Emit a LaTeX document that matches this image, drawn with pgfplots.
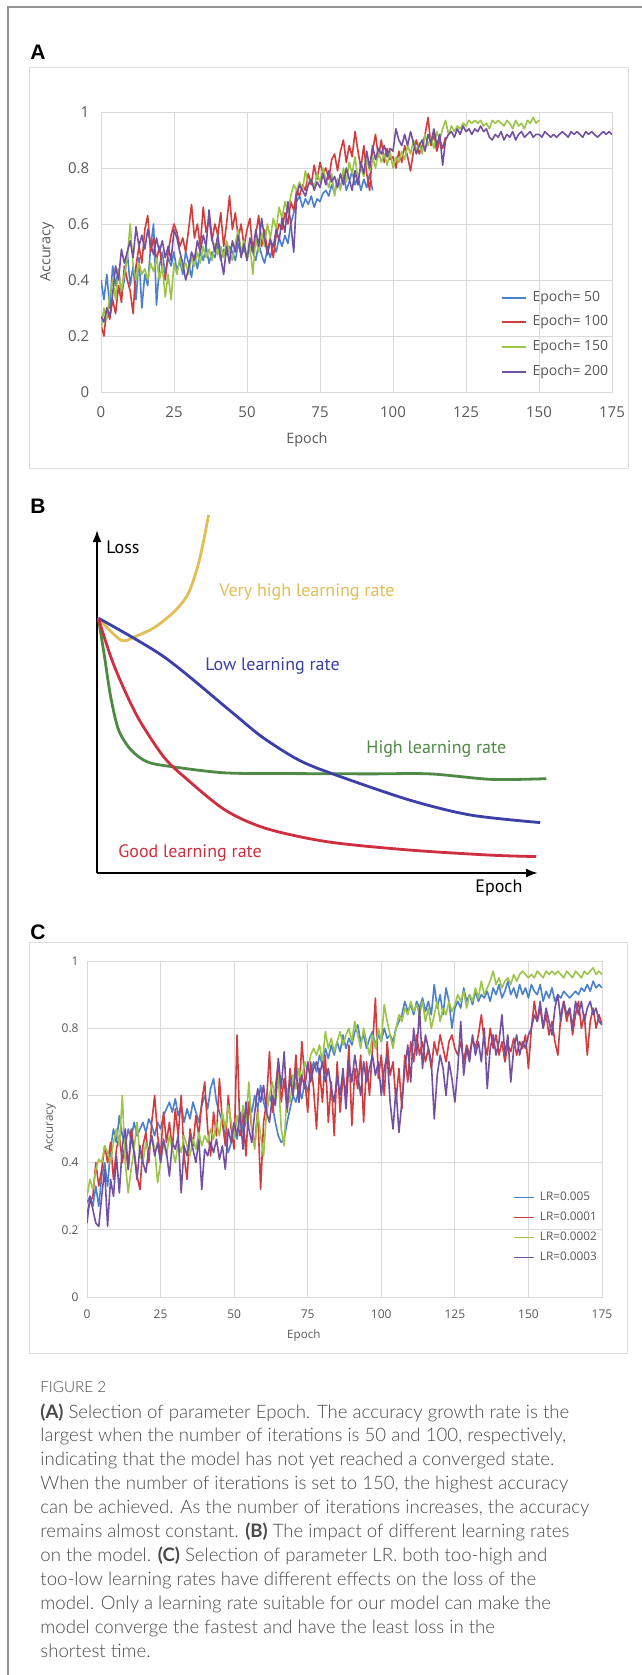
\documentclass[border=0pt]{standalone}
\usepackage{fontspec}
\setmainfont{Open Sans}
\newfontfamily\capfont{Lato}[UprightFont=* Light, BoldFont=* Bold]
\newfontfamily\labfont{Liberation Sans}
\newfontfamily\bfont{PT Sans}
\usepackage{pgfplots}
\pgfplotsset{compat=1.18}
\usepackage{pgfplotstable}
\usetikzlibrary{arrows.meta}

\definecolor{txtgray}{HTML}{595959}
\definecolor{gridgray}{HTML}{D9D9D9}
\definecolor{framegray}{HTML}{DDDDDD}
\definecolor{capgray}{HTML}{4A4A4A}
\definecolor{cblue}{HTML}{4A80CE}
\definecolor{cred}{HTML}{D23C3C}
\definecolor{cgreen}{HTML}{9CC447}
\definecolor{cpurple}{HTML}{7450A0}
\definecolor{byellow}{HTML}{E2BE55}
\definecolor{bblue}{HTML}{3B3FA8}
\definecolor{bgreen}{HTML}{4F8A45}
\definecolor{bred}{HTML}{CF2F40}

% panel A: accuracy per epoch setting (b=50, r=100, g=150, p=200)
\pgfplotstableread{
x b r g p
0 .40 .24 .22 .27
1 .33 .20 .30 .25
2 .42 .30 .26 .30
3 .30 .26 .35 .27
4 .45 .33 .40 .35
5 .38 .28 .33 .45
6 .44 .38 .44 .40
7 .35 .32 .36 .51
8 .40 .45 .42 .46
9 .50 .40 .48 .50
10 .38 .36 .60 .54
11 .45 .28 .45 .48
12 .33 .45 .40 .59
13 .48 .52 .46 .52
14 .30 .46 .42 .56
15 .42 .58 .44 .51
16 .38 .63 .40 .58
17 .52 .50 .46 .53
18 .60 .55 .43 .49
19 .31 .47 .48 .55
20 .45 .52 .40 .50
21 .50 .44 .45 .54
22 .42 .40 .34 .48
23 .48 .50 .42 .52
24 .45 .56 .33 .47
25 .50 .60 .46 .58
26 .43 .57 .42 .55
27 .47 .52 .48 .50
28 .42 .55 .44 .46
29 .50 .50 .46 .40
30 .46 .58 .42 .44
31 .41 .67 .48 .50
32 .49 .55 .45 .47
33 .44 .60 .50 .54
34 .50 .52 .46 .50
35 .47 .66 .52 .56
36 .52 .57 .48 .52
37 .46 .62 .51 .65
38 .50 .54 .47 .55
39 .48 .60 .53 .50
40 .53 .56 .49 .56
41 .47 .64 .52 .48
42 .51 .52 .48 .42
43 .49 .60 .54 .52
44 .52 .70 .50 .46
45 .50 .58 .47 .54
46 .47 .64 .53 .50
47 .53 .55 .58 .56
48 .49 .60 .50 .48
49 .51 .52 .54 .53
50 .48 .58 .47 .47
51 .52 .62 .52 .55
52 .50 .50 .42 .50
53 .47 .56 .55 .58
54 .53 .63 .50 .52
55 .49 .52 .57 .62
56 .46 .58 .52 .55
57 .51 .50 .60 .49
58 .48 .55 .55 .54
59 .53 .48 .62 .52
60 .50 .56 .58 .58
61 .55 .60 .66 .54
62 .52 .58 .62 .62
63 .56 .64 .68 .57
64 .53 .60 .64 .68
65 .60 .68 .70 .60
66 .64 .65 .74 .50
67 .68 .72 .72 .70
68 .70 .70 .75 .74
69 .66 .74 .72 .72
70 .69 .72 .79 .70
71 .67 .78 .74 .74
72 .70 .74 .76 .76
73 .66 .81 .73 .72
74 .69 .76 .78 .75
75 .68 .82 .75 .73
76 .71 .78 .80 .78
77 .72 .80 .76 .74
78 .70 .76 .73 .79
79 .74 .83 .78 .75
80 .71 .85 .70 .77
81 .76 .79 .76 .73
82 .73 .86 .72 .78
83 .78 .90 .80 .74
84 .72 .82 .75 .80
85 .75 .88 .82 .76
86 .79 .84 .78 .72
87 .74 .93 .84 .79
88 .77 .86 .76 .74
89 .72 .80 .80 .82
90 .76 .88 .77 .78
91 .73 .78 .83 .86
92 .78 .72 .79 .80
93 .72 .86 .84 .88
94 nan .92 .80 .83
95 nan .84 .86 .87
96 nan .90 .82 .85
97 nan .82 .85 .88
98 nan .87 .81 .84
99 nan .83 .86 .87
100 nan .84 .80 .86
101 nan .80 .84 .94
102 nan .86 .82 .90
103 nan .82 .86 .88
104 nan .88 .83 .92
105 nan .84 .88 .88
106 nan .79 .85 .93
107 nan .86 .90 .89
108 nan .90 .86 .85
109 nan .85 .89 .88
110 nan .88 .85 .90
111 nan .92 .92 .86
112 nan .98 .88 .92
113 nan .88 .91 .89
114 nan .92 .87 .94
115 nan .86 .93 .88
116 nan .90 .90 .92
117 nan .87 .94 .81
118 nan .91 .97 .90
119 nan nan .92 .92
120 nan nan .95 .93
121 nan nan .93 .91
122 nan nan .95 .94
123 nan nan .94 .92
124 nan nan .96 .95
125 nan nan .95 .93
126 nan nan .97 .94
127 nan nan .96 .92
128 nan nan .97 .94
129 nan nan .96 .93
130 nan nan .97 .95
131 nan nan .95 .93
132 nan nan .96 .94
133 nan nan .94 .91
134 nan nan .97 .90
135 nan nan .96 .92
136 nan nan .97 .91
137 nan nan .96 .93
138 nan nan .95 .90
139 nan nan .97 .92
140 nan nan .96 .91
141 nan nan .94 .93
142 nan nan .97 .90
143 nan nan .95 .92
144 nan nan .96 .93
145 nan nan .94 .91
146 nan nan .97 .92
147 nan nan .96 .93
148 nan nan .98 .91
149 nan nan .96 .92
150 nan nan .97 .92
151 nan nan nan .91
152 nan nan nan .93
153 nan nan nan .92
154 nan nan nan .91
155 nan nan nan .92
156 nan nan nan .91
157 nan nan nan .92
158 nan nan nan .93
159 nan nan nan .92
160 nan nan nan .91
161 nan nan nan .93
162 nan nan nan .92
163 nan nan nan .93
164 nan nan nan .92
165 nan nan nan .91
166 nan nan nan .93
167 nan nan nan .92
168 nan nan nan .93
169 nan nan nan .92
170 nan nan nan .91
171 nan nan nan .92
172 nan nan nan .93
173 nan nan nan .92
174 nan nan nan .93
175 nan nan nan .92
}\tabA

% panel C: accuracy per learning rate (b=0.005, r=0.0001, g=0.0002, p=0.0003)
\pgfplotstableread{
x b r g p
0 .28 .25 .30 .22
1 .30 .28 .35 .30
2 .27 .30 .32 .26
3 .33 .40 .38 .22
4 .27 .33 .41 .21
5 .36 .38 .40 .30
6 .40 .45 .45 .38
7 .33 .40 .43 .21
8 .44 .46 .40 .35
9 .50 .35 .46 .30
10 .46 .44 .50 .42
11 .54 .48 .45 .31
12 .48 .40 .60 .45
13 .45 .46 .40 .50
14 .50 .38 .31 .38
15 .47 .50 .38 .48
16 .52 .44 .44 .43
17 .48 .36 .52 .35
18 .50 .32 .42 .45
19 .52 .45 .40 .40
20 .49 .49 .46 .37
21 .53 .40 .43 .44
22 .51 .52 .48 .48
23 .48 .60 .44 .42
24 .52 .48 .34 .46
25 .50 .42 .40 .40
26 .54 .55 .46 .47
27 .56 .46 .42 .43
28 .58 .52 .48 .36
29 .55 .44 .44 .46
30 .59 .56 .40 .44
31 .54 .48 .46 .48
32 .57 .60 .43 .31
33 .52 .42 .48 .45
34 .56 .35 .45 .42
35 .53 .50 .42 .48
36 .58 .45 .47 .44
37 .55 .54 .44 .40
38 .52 .48 .49 .47
39 .57 .58 .45 .32
40 .60 .64 .48 .44
41 .56 .50 .46 .42
42 .62 .42 .50 .46
43 .65 .55 .47 .43
44 .58 .48 .52 .47
45 .55 .65 .48 .41
46 .52 .52 .55 .45
47 .48 .45 .50 .38
48 .43 .60 .57 .50
49 .46 .50 .52 .46
50 .50 .44 .47 .52
51 .47 .78 .54 .48
52 .55 .48 .50 .55
53 .49 .55 .57 .44
54 .52 .42 .52 .58
55 .58 .58 .64 .50
56 .55 .50 .50 .46
57 .60 .45 .44 .55
58 .56 .56 .55 .62
59 .63 .32 .48 .58
60 .58 .52 .42 .63
61 .55 .58 .55 .55
62 .60 .73 .60 .52
63 .57 .55 .64 .60
64 .52 .62 .58 .57
65 .48 .70 .66 .71
66 .46 .58 .50 .62
67 .47 .65 .45 .73
68 .52 .55 .62 .56
69 .56 .68 .58 .65
70 .60 .60 .66 .60
71 .58 .72 .62 .68
72 .62 .58 .68 .58
73 .59 .76 .65 .66
74 .64 .65 .70 .62
75 .61 .55 .67 .70
76 .66 .70 .72 .64
77 .70 .62 .74 .68
78 .67 .50 .72 .70
79 .72 .68 .75 .66
80 .69 .58 .70 .70
81 .74 .72 .79 .64
82 .71 .52 .74 .68
83 .75 .64 .77 .62
84 .72 .48 .73 .58
85 .76 .70 .76 .66
86 .73 .55 .79 .60
87 .78 .66 .75 .68
88 .74 .60 .78 .56
89 .77 .75 .80 .70
90 .75 .51 .76 .64
91 .79 .68 .82 .72
92 .81 .62 .78 .66
93 .76 .72 .74 .60
94 .78 .52 .80 .70
95 .74 .70 .76 .64
96 .77 .60 .72 .68
97 .79 .74 .78 .72
98 .75 .89 .74 .66
99 .78 .65 .80 .70
100 .76 .72 .76 .60
101 .80 .60 .87 .68
102 .77 .76 .82 .72
103 .78 .66 .78 .58
104 .76 .70 .74 .50
105 .80 .58 .80 .62
106 .82 .68 .84 .49
107 .84 .56 .82 .58
108 .88 .72 .86 .68
109 .85 .64 .84 .75
110 .87 .76 .88 .64
111 .84 .70 .85 .80
112 .88 .78 .87 .72
113 .86 .72 .84 .86
114 .89 .76 .88 .68
115 .85 .70 .82 .78
116 .88 .74 .86 .74
117 .84 .68 .80 .70
118 .93 .76 .84 .53
119 .86 .72 .88 .66
120 .90 .78 .82 .72
121 .84 .74 .86 .68
122 .92 .70 .84 .60
123 .88 .76 .88 .70
124 .80 .78 .85 .65
125 .86 .74 .87 .58
126 .88 .72 .90 .68
127 .86 .76 .88 .82
128 .92 .70 .91 .66
129 .88 .75 .86 .74
130 .90 .72 .90 .70
131 .87 .77 .88 .78
132 .91 .74 .92 .72
133 .88 .78 .89 .76
134 .90 .84 .94 .70
135 .89 .76 .90 .80
136 .91 .72 .92 .62
137 .88 .80 .94 .74
138 .92 .74 .97 .78
139 .90 .78 .93 .72
140 .93 .72 .95 .76
141 .89 .76 .92 .84
142 .91 .70 .94 .72
143 .94 .75 .95 .78
144 .90 .73 .93 .64
145 .92 .77 .96 .74
146 .89 .72 .94 .78
147 .93 .76 .96 .72
148 .90 .74 .97 .76
149 .92 .78 .96 .74
150 .89 .68 .95 .78
151 .93 .80 .96 .80
152 .91 .88 .95 .84
153 .90 .82 .97 .82
154 .93 .86 .96 .88
155 .88 .80 .95 .80
156 .91 .84 .97 .86
157 .89 .78 .96 .82
158 .92 .82 .97 .78
159 .88 .76 .96 .86
160 .90 .72 .97 .90
161 .89 .84 .96 .82
162 .91 .88 .95 .88
163 .90 .82 .97 .84
164 .89 .86 .96 .86
165 .90 .78 .95 .80
166 .91 .84 .97 .88
167 .90 .88 .96 .84
168 .92 .80 .95 .88
169 .91 .84 .97 .82
170 .93 .72 .96 .86
171 .91 .82 .97 .88
172 .94 .86 .98 .84
173 .92 .80 .96 .86
174 .93 .84 .97 .82
175 .92 .81 .96 .81
}\tabC

\pgfplotsset{
  acc/.style={
    scale only axis,
    xmin=0, xmax=175, ymin=0, ymax=1,
    xtick={0,25,...,175},
    ytick={0,0.2,0.4,0.6,0.8,1},
    grid=major,
    grid style={gridgray, line width=0.5pt},
    axis line style={gridgray, line width=0.5pt},
    major tick length=0pt,
    tick label style={text=txtgray, inner sep=0pt},
    /pgf/number format/assume math mode=true,
    legend cell align=left,
    every axis plot/.append style={line width=0.8pt, line join=round},
  }
}

\begin{document}
\begin{tikzpicture}
\useasboundingbox (0,0) rectangle (321pt,-837.5pt);
\begin{scope}[x=0.5pt,y=-0.5pt]
  \fill[white] (0,0) rectangle (642,1675);
  \draw[gray!85, line width=1pt] (8,1675) -- (8,7) -- (642,7);
  \draw[framegray, line width=0.5pt] (29.5,68) rectangle (628,468);
  \draw[framegray, line width=0.5pt] (29.5,942) rectangle (627,1353);
  \node[font=\labfont\bfseries\fontsize{10.5}{10.5}\selectfont, anchor=west, inner sep=0] at (30,52) {A};
  \node[font=\labfont\bfseries\fontsize{10.5}{10.5}\selectfont, anchor=west, inner sep=0] at (30,506) {B};
  \node[font=\labfont\bfseries\fontsize{10.5}{10.5}\selectfont, anchor=west, inner sep=0] at (30,932) {C};
  % panel B labels
  \begin{scope}[every node/.style={font=\bfont\fontsize{9}{9}\selectfont, anchor=west, inner sep=0}]
    \node at (106,547) {Loss};
    \node at (475,888) {Epoch};
    \node[text=byellow] at (219,592) {Very high learning rate};
    \node[text=bblue] at (205,666) {Low learning rate};
    \node[text=bgreen] at (366,749) {High learning rate};
    \node[text=bred] at (118,853) {Good learning rate};
  \end{scope}
  % caption
  \node[anchor=west, inner sep=0, font=\capfont\fontsize{7.6}{8}\selectfont, text=capgray] at (40,1387) {FIGURE 2};
  \node[anchor=north west, inner sep=0, align=left, font=\capfont\fontsize{9.3}{11.95}\selectfont, text=capgray] at (40,1403) {%
\textbf{(A)} Selection of parameter Epoch. The accuracy growth rate is the\\
largest when the number of iterations is 50 and 100, respectively,\\
indicating that the model has not yet reached a converged state.\\
When the number of iterations is set to 150, the highest accuracy\\
can be achieved. As the number of iterations increases, the accuracy\\
remains almost constant. \textbf{(B)} The impact of different learning rates\\
on the model. \textbf{(C)} Selection of parameter LR. both too-high and\\
too-low learning rates have different effects on the loss of the\\
model. Only a learning rate suitable for our model can make the\\
model converge the fastest and have the least loss in the\\
shortest time.};
\end{scope}

% ---------------- panel A
\begin{axis}[acc,
  at={(50.5pt,-196pt)}, anchor=south west,
  width=255.5pt, height=140pt,
  tick label style={font=\fontsize{7.5}{8}\selectfont},
  xticklabel shift=7pt, yticklabel shift=5.7pt,
  xlabel={Epoch}, ylabel={Accuracy},
  every axis x label/.style={at={(axis description cs:0.403,-0.171)}, anchor=center,
    font=\fontsize{7.2}{8}\selectfont, text=txtgray},
  every axis y label/.style={at={(axis description cs:-0.1057,0.5)}, rotate=90, anchor=center,
    font=\fontsize{7.2}{8}\selectfont, text=txtgray},
  legend style={at={(axis description cs:0.781,0.205)}, anchor=west,
    draw=none, fill=none, inner sep=0pt, row sep=5.9pt, column sep=3pt,
    font=\fontsize{7}{8}\selectfont, text=txtgray,
    nodes={inner sep=0pt, text height=5pt, text depth=1.4pt}},
  legend image code/.code={\draw[line width=1pt] (0pt,0pt) -- (12pt,0pt);},
]
\addplot[cblue] table[x=x, y=b] {\tabA};
\addlegendentry{Epoch= 50}
\addplot[cred] table[x=x, y=r] {\tabA};
\addlegendentry{Epoch= 100}
\addplot[cgreen] table[x=x, y=g] {\tabA};
\addlegendentry{Epoch= 150}
\addplot[cpurple] table[x=x, y=p] {\tabA};
\addlegendentry{Epoch= 200}
\end{axis}

% ---------------- panel B (schematic loss curves)
\begin{axis}[
  at={(48.5pt,-436.5pt)}, anchor=south west,
  scale only axis, width=220.5pt, height=171.5pt,
  xmin=0, xmax=100, ymin=0, ymax=100,
  axis lines*=left,
  axis line style={black, line width=1pt},
  x axis line style={-{Latex[length=6pt,width=4.5pt]}},
  y axis line style={-{Latex[length=6pt,width=4.5pt]}},
  xtick=\empty, ytick=\empty,
  clip=false,
  every axis plot/.append style={smooth, tension=0.5, line width=1.4pt},
]
\addplot[byellow] coordinates {(0.3,74.3) (5.4,67.9) (8.6,68.9) (13.3,71.8) (17.9,76.7) (20.7,81.5) (22.6,88.3) (23.9,95.1) (25.3,104.4)};
\addplot[bgreen] coordinates {(0.3,74.3) (1.7,63.1) (3.1,51.4) (4.9,41.7) (7.7,35.9) (11.4,32.4) (17,31) (29,29.2) (43,29) (61.5,28.9) (75.5,28.9) (89.4,27.3) (101.9,27.5)};
\addplot[bblue] coordinates {(0.3,74.3) (15.1,63.1) (30,47.5) (37.4,39.7) (45.8,32.9) (54.1,28.6) (70.8,21.3) (84.7,16.9) (100.5,14.7)};
\addplot[bred] coordinates {(0.3,74.3) (3.1,63.1) (5.9,54.3) (9.6,44.6) (15.1,33.9) (19.8,28.0) (29,18.4) (38.3,13.0) (52.3,9.1) (70.8,6.7) (89.4,5.2) (99.6,4.8)};
\end{axis}

% ---------------- panel C
\begin{axis}[acc,
  at={(43.5pt,-648.5pt)}, anchor=south west,
  width=257.5pt, height=168pt,
  tick label style={font=\fontsize{6}{7}\selectfont},
  xticklabel shift=6.2pt, yticklabel shift=4pt,
  xlabel={Epoch}, ylabel={Accuracy},
  every axis x label/.style={at={(axis description cs:0.421,-0.113)}, anchor=center,
    font=\fontsize{5.8}{7}\selectfont, text=txtgray},
  every axis y label/.style={at={(axis description cs:-0.0718,0.503)}, rotate=90, anchor=center,
    font=\fontsize{5.8}{7}\selectfont, text=txtgray},
  legend style={at={(axis description cs:0.827,0.207)}, anchor=west,
    draw=none, fill=none, inner sep=0pt, row sep=4.7pt, column sep=2.5pt,
    font=\fontsize{5.9}{7}\selectfont, text=txtgray,
    nodes={inner sep=0pt, text height=4.2pt, text depth=1.1pt}},
  legend image code/.code={\draw[line width=0.8pt] (0pt,0pt) -- (10pt,0pt);},
]
\addplot[cblue] table[x=x, y=b] {\tabC};
\addlegendentry{LR=0.005}
\addplot[cred] table[x=x, y=r] {\tabC};
\addlegendentry{LR=0.0001}
\addplot[cgreen] table[x=x, y=g] {\tabC};
\addlegendentry{LR=0.0002}
\addplot[cpurple] table[x=x, y=p] {\tabC};
\addlegendentry{LR=0.0003}
\end{axis}
\end{tikzpicture}
\end{document}
